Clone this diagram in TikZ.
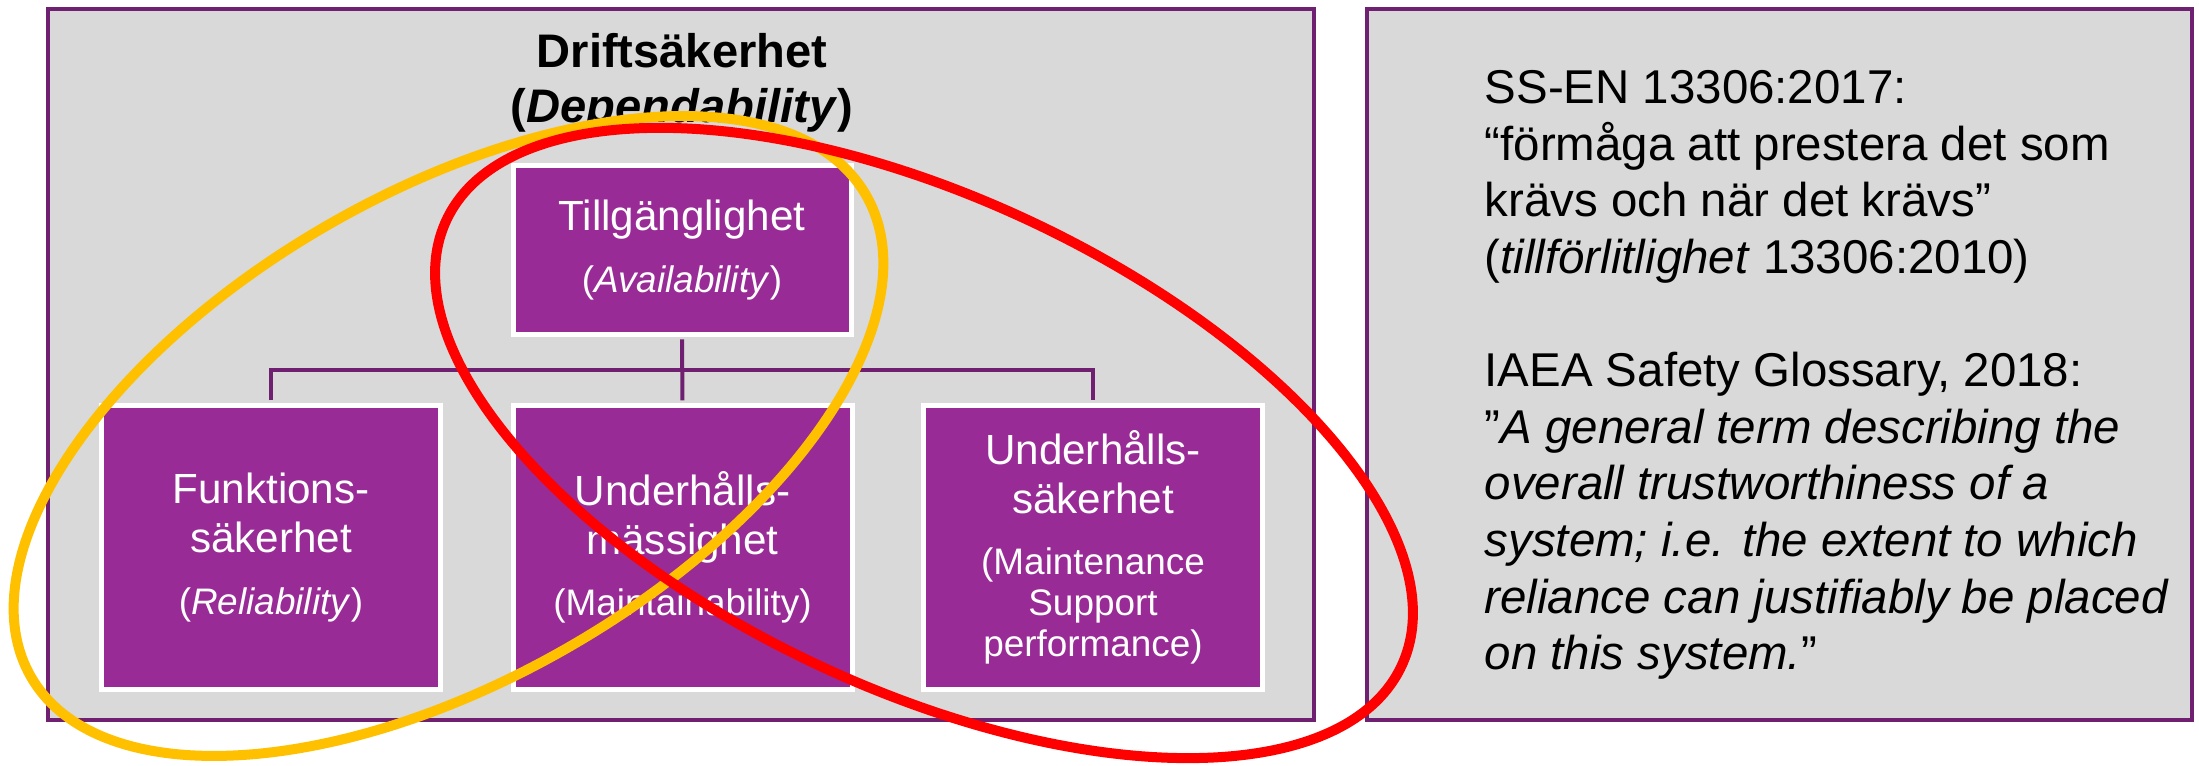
\documentclass[tikz,border=0pt]{standalone}
\usepackage{fontspec}
\setmainfont{Liberation Sans}
\usepackage{tikz}
\usetikzlibrary{calc}
\definecolor{cPanel}{RGB}{217,217,217}
\definecolor{cFrame}{RGB}{112,32,112}
\definecolor{cBox}{RGB}{153,43,150}
\definecolor{cYellow}{RGB}{255,192,0}
\definecolor{cRed}{RGB}{255,0,0}
\newcommand{\subtxt}{\fontsize{10.5}{12}\selectfont}
\tikzset{
	panel/.style={draw=cFrame, line width=0.04cm, fill=cPanel},
	blk/.style  ={rectangle, draw=white, line width=0.05cm, fill=cBox, text=white, align=center, minimum width=3.39cm, minimum height=2.84cm, inner sep=0pt, font=\fontsize{12}{14}\selectfont},
	conn/.style ={draw=cFrame, line width=0.04cm, shorten <=0.025cm, shorten >=0.025cm},
	ring/.style ={line width=0.1cm},
}

\begin{document}
\begin{tikzpicture}
				\useasboundingbox (0,0) rectangle (21.99,7.66);
				% the two grey panels
				\draw[panel] (0.48,0.46) rectangle (13.14,7.57);
				\draw[panel] (13.67,0.46) rectangle (21.92,7.57);
				\node[align=center, font=\bfseries\fontsize{13.4}{15.6}\selectfont] (title) at (6.82,6.83) {Driftsäkerhet\\(\textit{Dependability})};
				\node[blk, minimum width=3.38cm, minimum height=1.69cm] (avail) at (6.82,5.16) {Tillgänglighet\\[3.6pt]\subtxt(\textit{Availability})};
				\foreach \x/\nm/\txt in {2.71/rel/{Funktions-\\säkerhet\\[3.4pt]\subtxt(\textit{Reliability})}, 6.825/maint/{Underhålls-\\mässighet\\[3.4pt]\subtxt(Maintainability)}, 10.93/supp/{Underhålls-\\säkerhet\\[3.4pt]\subtxt(Maintenance\\[-2.3pt]\subtxt Support\\[-2.3pt]\subtxt performance)}} {
					\node[blk] (\nm) at (\x,2.185) {\txt};
				}
				\coordinate (bus) at ($(avail.south)!0.5!(maint.north)$);
				\draw[conn] (avail.south) -- (maint.north);
				\draw[conn] (rel.north) |- (bus) -| (supp.north);
				% definitions
				\node[anchor=north west, align=left, inner sep=0pt, font=\fontsize{13.5}{16.1}\selectfont] (defs) at (14.84,6.96) {SS-EN 13306:2017:\\“förmåga att prestera det som\\krävs och när det krävs”\\(\textit{tillförlitlighet} 13306:2010)\\[16.1pt]IAEA Safety Glossary, 2018:\\”\textit{A general term describing the}\\\textit{overall trustworthiness of a}\\\textit{system; i.e. the extent to which}\\\textit{reliance can justifiably be placed}\\\textit{on this system.}”};
				% the two rings
				\draw[ring, cYellow, rotate around={30:(4.485,3.30)}] (4.485,3.30) ellipse (4.82 and 2.43);
				\draw[ring, cRed, rotate around={-25:(9.24,3.23)}] (9.24,3.23) ellipse (5.27 and 2.46);
\end{tikzpicture}
\end{document}
